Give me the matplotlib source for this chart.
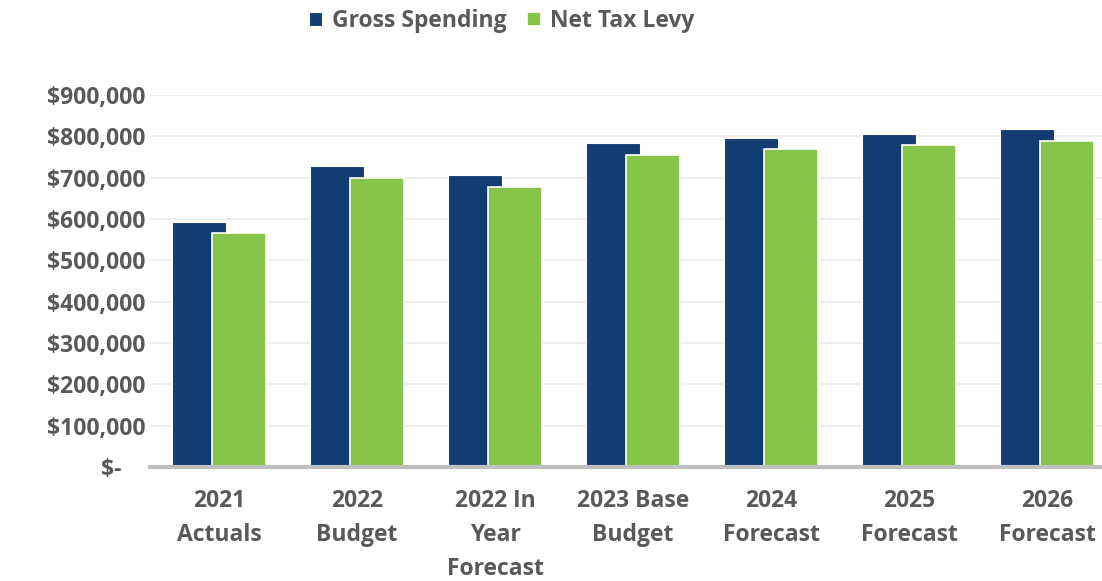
import numpy as np
import matplotlib.pyplot as plt
from matplotlib.ticker import FuncFormatter

# Data
categories = ["2021\nActuals", "2022\nBudget", "2022 In\nYear\nForecast", "2023 Base\nBudget",
              "2024\nForecast", "2025\nForecast", "2026\nForecast"]
gross_spending = [592000, 728000, 706000, 783000, 797000, 806000, 817000]
net_tax_levy = [565000, 699000, 678000, 756000, 769000, 779000, 789000]

NAVY = "#133C72"
GREEN = "#86C54A"
TEXT = "#595959"

plt.rcParams['font.family'] = ['Open Sans', 'DejaVu Sans']

fig = plt.figure(figsize=(11.02, 5.81), dpi=100)
ax = fig.add_axes([150 / 1102, 1 - 467 / 581, 966 / 1102, 372 / 581])

x = np.arange(len(categories))
w = 0.39
ax.bar(x - 0.143, gross_spending, w, color=NAVY, edgecolor="white", linewidth=0.8,
       label="Gross Spending", zorder=3)
ax.bar(x + 0.143, net_tax_levy, w, color=GREEN, edgecolor="white", linewidth=1.2,
       label="Net Tax Levy", zorder=4)

ax.set_xlim(-0.5, len(categories) - 0.5)
ax.set_ylim(0, 900000)
ax.set_yticks(np.arange(0, 900001, 100000))
ax.yaxis.set_major_formatter(FuncFormatter(lambda v, p: "$-    " if v == 0 else f"${v:,.0f}"))
ax.set_xticks(x)
ax.set_xticklabels(categories, linespacing=1.55, va="top")

ax.grid(axis="y", color="#EBEBEB", linewidth=1.2, zorder=0)
ax.set_axisbelow(True)
for s in ["top", "right", "left"]:
    ax.spines[s].set_visible(False)
ax.spines["bottom"].set_color("#BFBFBF")
ax.spines["bottom"].set_linewidth(3)
ax.spines["bottom"].set_zorder(5)

ax.tick_params(axis="both", length=0, labelsize=16.5, labelcolor=TEXT)
ax.tick_params(axis="y", pad=3)
ax.tick_params(axis="x", pad=16)
for lbl in ax.get_xticklabels() + ax.get_yticklabels():
    lbl.set_fontweight("bold")

fig.legend(loc="upper center", bbox_to_anchor=(0.455, 1.02), ncol=2, frameon=False,
           prop={"size": 16.5, "weight": "bold"}, labelcolor=TEXT,
           handlelength=0.6, handleheight=0.6, handletextpad=0.4, columnspacing=0.9)

fig.savefig("out.png", dpi=100)
